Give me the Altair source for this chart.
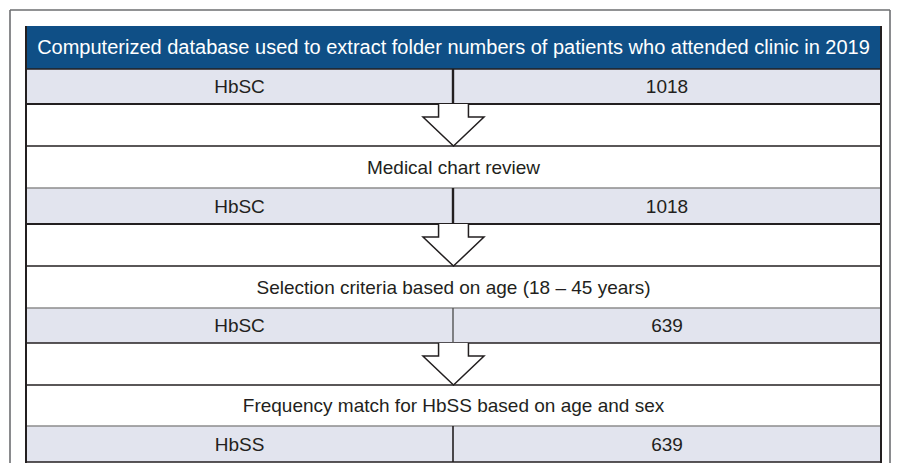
import altair as alt
import pandas as pd

# ---- content ----
steps = [
    "Computerized database used to extract folder numbers of patients who attended clinic in 2019",
    "Medical chart review",
    "Selection criteria based on age (18 \u2013 45 years)",
    "Frequency match for HbSS based on age and sex",
]
groups = ["HbSC", "HbSC", "HbSC", "HbSS"]
counts = [1018, 1018, 639, 639]

# ---- layout (page pixel coordinates) ----
W, H = 883, 455           # plot area, page margin 8px
X0, X1 = 8, 8 + W
Y0, Y1 = 8, 8 + H
T_LEFT, T_RIGHT, T_MID = 26, 881, 453
FRAME_L, FRAME_R, FRAME_T = 10, 890, 10
# per step: text row top, gray row top, gray row bottom
text_top = [26, 146, 266, 385]
gray_top = [69, 188, 308, 426]
gray_bot = [104, 224, 343, 462]

BLUE = "#0f4f86"
GRAY = "#e2e4ee"
INK = "#231f20"
FONT = "Liberation Sans"
FS = 19
FS_HEAD = 20

xs = alt.Scale(domain=[X0, X1], range=[0, W])
ys = alt.Scale(domain=[Y0, Y1], range=[0, H])

# rectangles
rect_rows = []
for i in range(len(steps)):
    rect_rows.append(dict(x1=T_LEFT, x2=T_RIGHT, y1=text_top[i], y2=gray_top[i],
                          fill=BLUE if i == 0 else "#ffffff"))
    rect_rows.append(dict(x1=T_LEFT, x2=T_RIGHT, y1=gray_top[i], y2=gray_bot[i], fill=GRAY))
rects = alt.Chart(pd.DataFrame(rect_rows)).mark_rect(strokeWidth=0).encode(
    x=alt.X("x1:Q", scale=xs, axis=None), x2="x2:Q",
    y=alt.Y("y1:Q", scale=ys, axis=None), y2="y2:Q",
    fill=alt.Fill("fill:N", scale=None),
)

# horizontal rules
hl = []
for i in range(len(steps)):
    if i > 0:
        hl.append(dict(y=text_top[i], c=INK, w=1.5))
    hl.append(dict(y=gray_top[i], c=INK if i == 0 else "#8c8c8c", w=1.5))
    hl.append(dict(y=gray_bot[i], c=INK, w=2.2 if i < 2 else 1.6))
hrules = alt.Chart(pd.DataFrame(hl)).mark_rule().encode(
    x=alt.value(T_LEFT - X0), x2=alt.value(T_RIGHT - X0),
    y=alt.Y("y:Q", scale=ys, axis=None),
    color=alt.Color("c:N", scale=None),
    strokeWidth=alt.StrokeWidth("w:Q", scale=None),
)

# dividers in the count rows
dv = pd.DataFrame(dict(x=[T_MID] * 4, y1=gray_top, y2=gray_bot, w=[2.4, 2.4, 1.4, 1.6],
                       c=[INK, INK, "#555555", INK]))
dividers = alt.Chart(dv).mark_rule().encode(
    x=alt.X("x:Q", scale=xs, axis=None),
    y=alt.Y("y1:Q", scale=ys, axis=None), y2="y2:Q",
    color=alt.Color("c:N", scale=None),
    strokeWidth=alt.StrokeWidth("w:Q", scale=None),
)

# table side borders + outer frame
vb = pd.DataFrame(dict(x=[T_LEFT, T_RIGHT, FRAME_L, FRAME_R], y1=[26, 26, FRAME_T, FRAME_T],
                       y2=[463, 463, 470, 470],
                       c=[INK, INK, "#6d6e71", "#6d6e71"], w=[2, 2, 1.6, 1.6]))
vborders = alt.Chart(vb).mark_rule().encode(
    x=alt.X("x:Q", scale=xs, axis=None),
    y=alt.Y("y1:Q", scale=ys, axis=None), y2="y2:Q",
    color=alt.Color("c:N", scale=None),
    strokeWidth=alt.StrokeWidth("w:Q", scale=None),
)
topframe = alt.Chart(pd.DataFrame(dict(y=[FRAME_T]))).mark_rule(color="#6d6e71", strokeWidth=1.6).encode(
    x=alt.value(FRAME_L - X0), x2=alt.value(FRAME_R - X0), y=alt.Y("y:Q", scale=ys, axis=None))

# arrows (custom symbol, centred in each arrow row)
arrow_path = ("M -0.49 -0.69 L -0.49 -0.26 L -1 -0.26 L 0 0.69 L 1 -0.26 "
              "L 0.49 -0.26 L 0.49 -0.69")
ar = pd.DataFrame(dict(x=[T_MID + 0.5] * 3,
                       y=[(gray_bot[i] + text_top[i + 1]) / 2 for i in range(3)]))
arrows = alt.Chart(ar).mark_point(shape=arrow_path, size=61 ** 2, filled=True,
                                  fill="#ffffff", stroke=INK, strokeWidth=1.5,
                                  opacity=1, fillOpacity=1, strokeJoin="miter").encode(
    x=alt.X("x:Q", scale=xs, axis=None), y=alt.Y("y:Q", scale=ys, axis=None))

# texts
st = pd.DataFrame(dict(t=steps, x=[(T_LEFT + T_RIGHT) / 2] * 4,
                       y=[(text_top[i] + gray_top[i]) / 2 + 0.5 for i in range(4)],
                       c=["#ffffff", INK, INK, INK], s=[FS_HEAD, FS, FS, FS]))
step_text = alt.Chart(st).mark_text(font=FONT, baseline="middle", align="center").encode(
    x=alt.X("x:Q", scale=xs, axis=None), y=alt.Y("y:Q", scale=ys, axis=None),
    text="t:N", color=alt.Color("c:N", scale=None), size=alt.Size("s:Q", scale=None))

cells = []
for i in range(4):
    yc = (gray_top[i] + gray_bot[i]) / 2 + 0.5
    cells.append(dict(t=groups[i], x=(T_LEFT + T_MID) / 2, y=yc))
    cells.append(dict(t=str(counts[i]), x=(T_MID + T_RIGHT) / 2, y=yc))
cell_text = alt.Chart(pd.DataFrame(cells)).mark_text(font=FONT, fontSize=FS, baseline="middle",
                                                     align="center", color=INK).encode(
    x=alt.X("x:Q", scale=xs, axis=None), y=alt.Y("y:Q", scale=ys, axis=None), text="t:N")

chart = alt.layer(rects, hrules, dividers, arrows, vborders, topframe, step_text, cell_text).properties(
    width=W, height=H, padding=0, autosize=alt.AutoSizeParams(type="none"),
    background="#ffffff",
).configure_view(stroke=None)

chart.save("out.html", embed_options={"renderer": "svg", "actions": False})
